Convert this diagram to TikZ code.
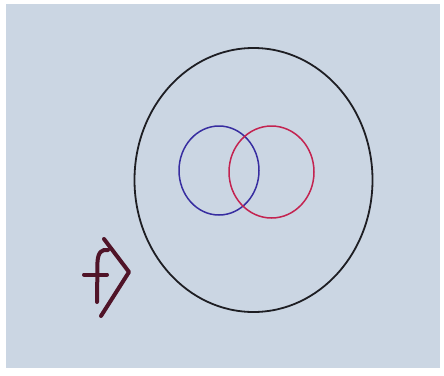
\documentclass[tikz,border=0pt]{standalone}
\definecolor{paper}{RGB}{203,214,227}
\definecolor{inkblack}{RGB}{30,30,35}
\definecolor{inkblue}{RGB}{55,45,160}
\definecolor{inkred}{RGB}{195,35,80}
\definecolor{inkmaroon}{RGB}{80,20,40}
\begin{document}
\begin{tikzpicture}[x=1pt,y=-1pt,
  pen/.style={line width=1.8pt, line cap=round, line join=round},
  marker/.style={line width=4pt, line cap=round, line join=round, draw=inkmaroon}]
\useasboundingbox (0,0) rectangle (444,375);
\fill[white] (0,0) rectangle (444,375);
\fill[paper] (6,4) rectangle (440,368);
% outer circle
\draw[pen, draw=inkblack] (253.5,180) ellipse [x radius=119, y radius=132];
% blue circle
\draw[pen, draw=inkblue, line width=1.5pt] (219,170.5) ellipse [x radius=40, y radius=44.5];
% red circle
\draw[pen, draw=inkred, line width=1.5pt] (271.5,172) ellipse [x radius=42.5, y radius=46];
% hand-drawn symbol
\draw[marker] (104,239) -- (129,272) -- (101,316);
\draw[marker] (97,302) -- (97.5,262) .. controls (98,252) and (102,249) .. (108,250);
\draw[marker] (84,274.5) -- (107,274.5);
\end{tikzpicture}
\end{document}
